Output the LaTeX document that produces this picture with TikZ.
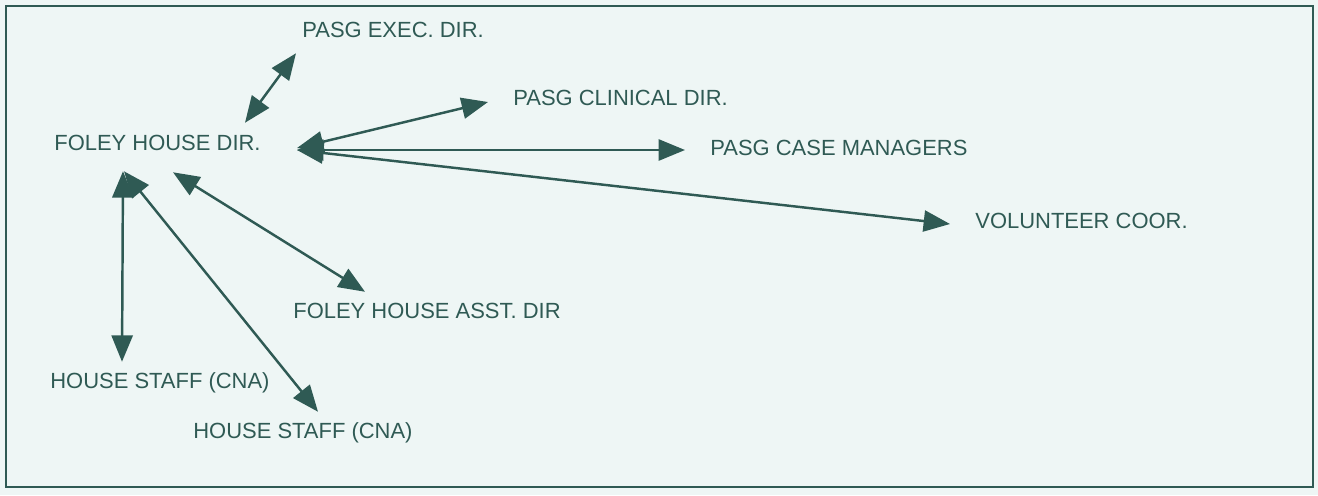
\documentclass[tikz,border=0pt]{standalone}
\usepackage{fontspec}
\setmainfont{Liberation Sans}
\usepackage{xcolor}
\usepackage{tikz}
\usetikzlibrary{arrows.meta, calc}

\definecolor{ink}{HTML}{2F5A54}
\definecolor{paper}{HTML}{EEF6F5}

\begin{document}
\begin{tikzpicture}[
    x=0.02cm, y=-0.02cm,
    role/.style={anchor=west, inner sep=0pt, text height=9pt, text depth=0pt, text=ink, font=\fontsize{12.5}{15}\selectfont},
    line/.style={draw=ink, line width=1.4pt, {Triangle[length=15pt,width=12pt]}-{Triangle[length=15pt,width=12pt]}}
]

% Page and frame
\fill[paper] (0,0) rectangle (1318,495);
\useasboundingbox (0,0) rectangle (1318,495);
\draw[ink, line width=1.1pt] (6,6) rectangle (1313,487);

% Staff roles
\node[role] (dir) at (54,143) {FOLEY HOUSE DIR.};
\node[role] (exec) at (302,30) {PASG EXEC. DIR.};
\node[role] (clin) at (513,98) {PASG CLINICAL DIR.};
\node[role] (case) at (710,148) {PASG CASE MANAGERS};
\node[role] (vol) at (975,221) {VOLUNTEER COOR.};
\node[role] (asst) at (293,311) {FOLEY HOUSE ASST. DIR};
\node[role] (staffa) at (50,381) {HOUSE STAFF (CNA)};
\node[role] (staffb) at (193,431) {HOUSE STAFF (CNA)};

% Connections
\draw[line] ($(dir.north west)+(191,-12)$) -- ($(exec.south west)+(-6,15)$);
\draw[line] ($(dir.west)+(243,5)$) -- ($(clin.west)+(-25,4)$);
\draw[line] ($(dir.west)+(243,7)$) -- ($(case.west)+(-25,2)$);
\draw[line] ($(dir.west)+(243,7)$) -- ($(vol.west)+(-25,3)$);
\draw[line] ($(dir.south west)+(119,21)$) -- ($(asst.north west)+(72,-11)$);
\draw[line] ($(dir.south west)+(69,20)$) -- ($(staffa.north west)+(72,-11)$);
\draw[line] ($(dir.south west)+(70,20)$) -- ($(staffb.north west)+(125,-11)$);

\end{tikzpicture}
\end{document}
